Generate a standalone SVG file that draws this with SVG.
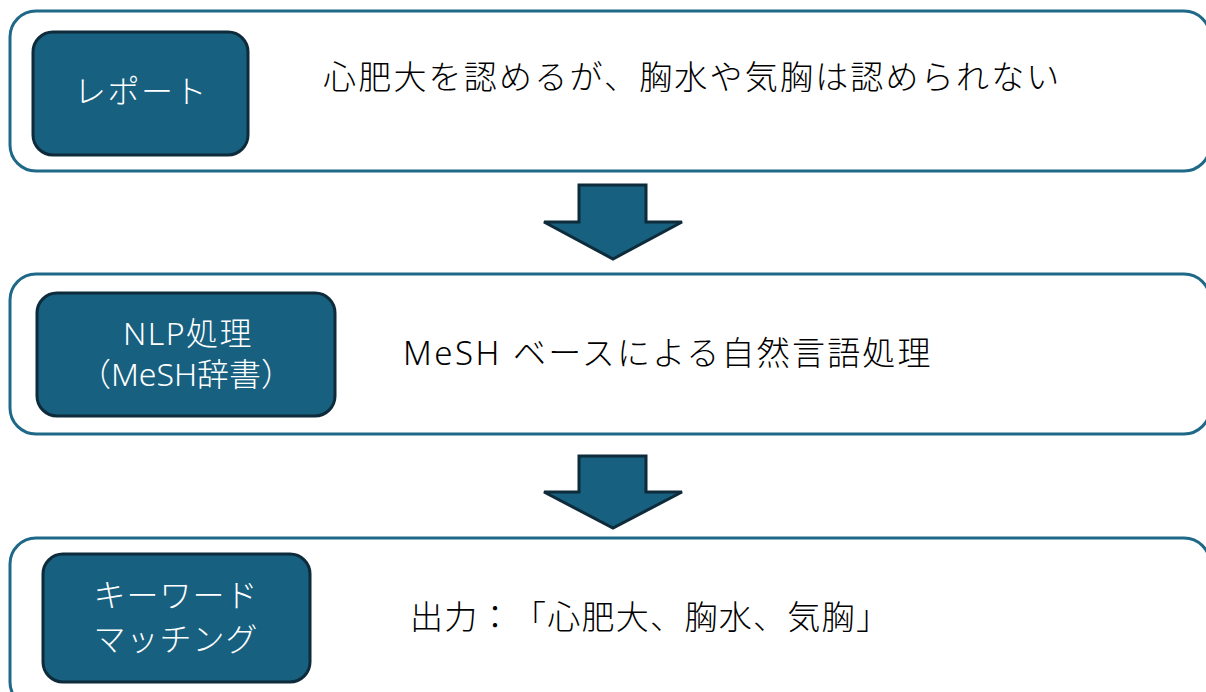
<svg xmlns="http://www.w3.org/2000/svg" width="1206" height="692" viewBox="0 0 1206 692">
<style>
.outer{fill:#ffffff;stroke:#1F6888;stroke-width:3}
.inner{fill:#17607F;stroke:#0D2B3A;stroke-width:3}
.arrow{fill:#17607F;stroke:#0D2B3A;stroke-width:3;stroke-linejoin:miter}
text{text-spacing-trim:space-all;font-family:"Noto Sans","Noto Sans CJK JP",sans-serif;font-weight:300}
.lbl{font-size:32px;fill:#ffffff;text-anchor:middle}
.txt{font-size:33px;fill:#000000}
</style>
<rect width="1206" height="692" fill="#ffffff"/>
<g id="row1">
<rect class="outer" x="10" y="11" width="1200" height="160" rx="26"/>
<g id="node-report">
<rect class="inner" x="33" y="32" width="215" height="123" rx="20"/>
<text class="lbl" x="141" y="103" letter-spacing="1.5">レポート</text>
</g>
<text class="txt" x="323" y="89" letter-spacing="2.2">心肥大を認めるが、胸水や気胸は認められない</text>
</g>
<g id="row2">
<rect class="outer" x="10" y="274" width="1200" height="160" rx="26"/>
<g id="node-nlp">
<rect class="inner" x="37" y="293" width="298" height="123" rx="20"/>
<text class="lbl" x="188" y="345" letter-spacing="1.5">NLP処理</text>
<text class="lbl" x="186" y="386">（MeSH辞書）</text>
</g>
<text class="txt" x="403" y="365"><tspan letter-spacing="2.5">MeSH </tspan><tspan letter-spacing="2.2">ベースによる自然言語処理</tspan></text>
</g>
<g id="row3">
<rect class="outer" x="10" y="538" width="1200" height="170" rx="26"/>
<g id="node-match">
<rect class="inner" x="43" y="554" width="267" height="128" rx="20"/>
<text class="lbl" x="176" y="607" letter-spacing="1">キーワード</text>
<text class="lbl" x="176" y="651" letter-spacing="1">マッチング</text>
</g>
<text class="txt" x="410" y="629" letter-spacing="1.3">出力：「心肥大、胸水、気胸」</text>
</g>
<g id="connectors">
<polygon class="arrow" points="579,185 646,185 646,222 682,222 613,259 544,222 579,222"/>
<polygon class="arrow" points="579,456 646,456 646,492 682,492 613,528 544,492 579,492"/>
</g>
</svg>
